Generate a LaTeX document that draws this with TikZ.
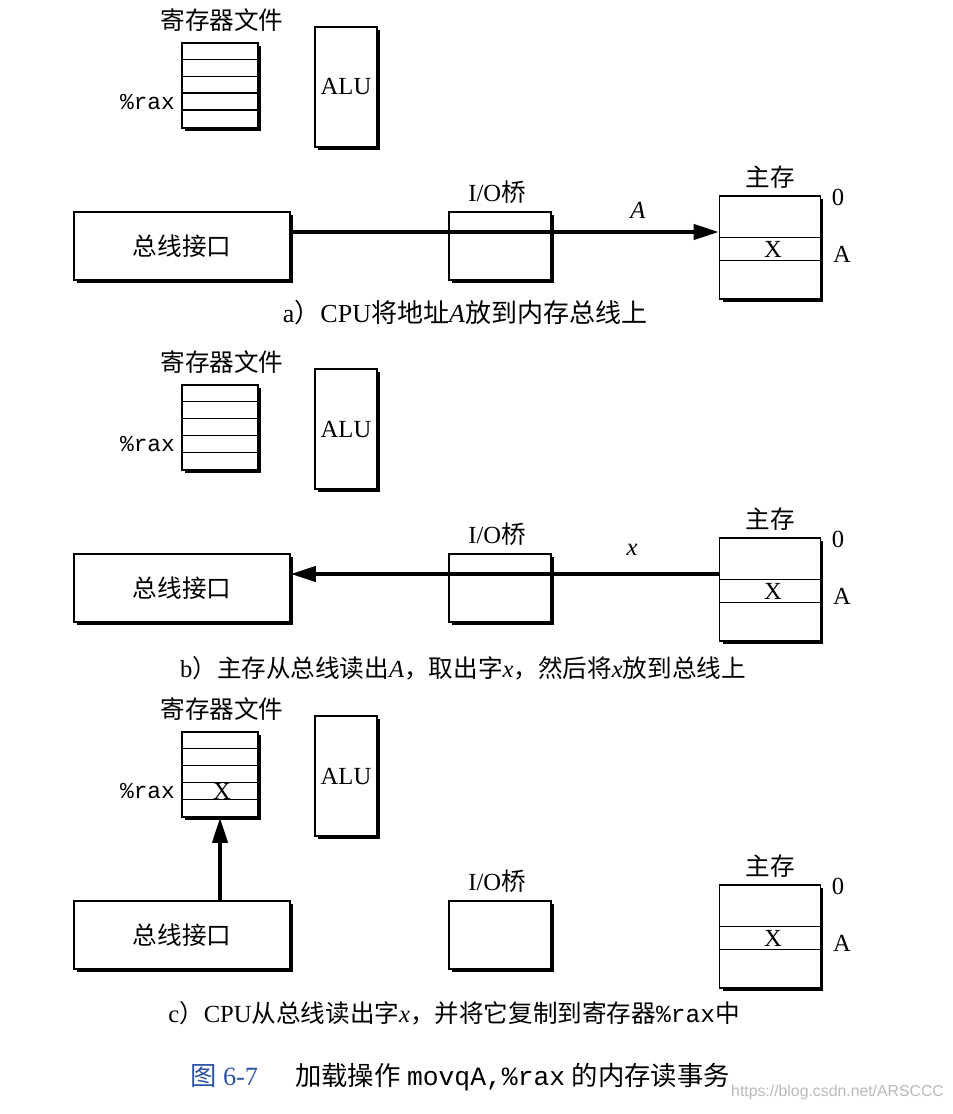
\documentclass[tikz,border=0pt]{standalone}
\usepackage{fontspec}
\setmainfont{Liberation Serif}
\setmonofont{Liberation Mono}
\newfontfamily\cjkfont{Noto Sans CJK SC}
\newfontfamily\wmfont{Liberation Sans}
\usetikzlibrary{arrows.meta,shadows}
\newcommand{\zh}[1]{{\cjkfont #1}}
\definecolor{figblue}{RGB}{45,85,165}

\begin{document}
\begin{tikzpicture}[x=0.02cm, y=-0.02cm,
    box/.style={draw, fill=white, line width=0.9pt, inner sep=1pt,
      general shadow={fill=black, shadow xshift=1.7pt, shadow yshift=-1.7pt}},
    regbox/.style={box, minimum width=1.52cm, minimum height=1.70cm},
    alubox/.style={box, minimum width=1.24cm, minimum height=2.40cm},
    busbox/.style={box, minimum width=4.32cm, minimum height=1.36cm},
    iobox/.style={box, minimum width=2.04cm, minimum height=1.36cm},
    membox/.style={box, minimum width=2.02cm, minimum height=2.06cm},
    txt/.style={font=\fontsize{14}{16}\selectfont, inner sep=1pt},
    mono/.style={font=\fontsize{13}{16}\selectfont\ttfamily, inner sep=1pt},
    captext/.style={font=\fontsize{14}{17}\selectfont, inner sep=1pt},
    dataline/.style={line width=2.2pt, -{Triangle[length=0.5cm, width=0.3cm]}},
    rowline/.style={line width=0.8pt}
  ]
  \useasboundingbox (0,0) rectangle (952,1114);

  % parts shared by the three panels
  \foreach \p/\dy in {a/0, b/342, c/689} {
    \node[txt] (rlab\p) at (222, 20+\dy) {\zh{寄存器文件}};
    \node[regbox] (reg\p) at (220, 85.5+\dy) {};
    \foreach \r in {1,...,4}
      \draw[rowline] ([yshift=-\r*0.34cm]reg\p.north west) -- ([yshift=-\r*0.34cm]reg\p.north east);
    \node[mono, anchor=east] (rax\p) at (177, 102+\dy) {\%rax};
    \node[alubox, txt] (alu\p) at (346, 87+\dy) {ALU};
    \node[busbox, txt] (bus\p) at (182, 246+\dy) {\zh{总线接口}};
    \node[iobox] (io\p) at (500, 246+\dy) {};
    \node[txt] (iolab\p) at (497, 192+\dy) {I/O\zh{桥}};
    \node[membox] (mem\p) at (770, 247.5+\dy) {};
    \draw[rowline] ([yshift=-0.84cm]mem\p.north west) -- ([yshift=-0.84cm]mem\p.north east);
    \draw[rowline] ([yshift=-1.30cm]mem\p.north west) -- ([yshift=-1.30cm]mem\p.north east);
    \node[txt] (mlab\p) at (770, 177+\dy) {\zh{主存}};
    \node[txt] (mzero\p) at (838, 197+\dy) {0};
    \node[txt] (maddr\p) at (842, 254+\dy) {A};
    \node[txt] (mword\p) at (773, 249.5+\dy) {X};
  }

  % a) address onto the bus
  \draw[dataline] ([yshift=0.28cm]busa.east) -- ([yshift=0.28cm]busa.east -| mema.west);
  \node[txt] (addr) at (638, 210) {\textit{A}};
  \node[captext, font=\fontsize{14.8}{17}\selectfont] (capa) at (465, 313) {a\zh{）}CPU\zh{将地址}\textit{A}\zh{放到内存总线上}};

  % b) word back from memory
  \draw[dataline] ([yshift=0.28cm]busb.east -| memb.west) -- ([yshift=0.28cm]busb.east);
  \node[txt] (word) at (632, 550) {\textit{x}};
  \node[captext] (capb) at (463, 668) {b\zh{）主存从总线读出}\textit{A}\zh{，取出字}\textit{x}\zh{，然后将}\textit{x}\zh{放到总线上}};

  % c) word into %rax
  \node[txt] (raxword) at (222, 791) {X};
  \draw[dataline] (regc.south |- busc.north) -- (regc.south);
  \node[captext] (capc) at (454, 1013) {c\zh{）}CPU\zh{从总线读出字}\textit{x}\zh{，并将它复制到寄存器}{\ttfamily\%rax}\zh{中}};

  \node[captext, font=\fontsize{15}{18}\selectfont] (fig) at (460, 1077) {\textcolor{figblue}{\zh{图} 6-7}\hspace{1.4em}\zh{加载操作} {\ttfamily movqA,\%rax} \zh{的内存读事务}};
  \node[font=\wmfont\fontsize{9}{10}\selectfont, text=gray!55, anchor=east, inner sep=1pt] (wm) at (946, 1092) {https://blog.csdn.net/ARSCCC};
\end{tikzpicture}
\end{document}
